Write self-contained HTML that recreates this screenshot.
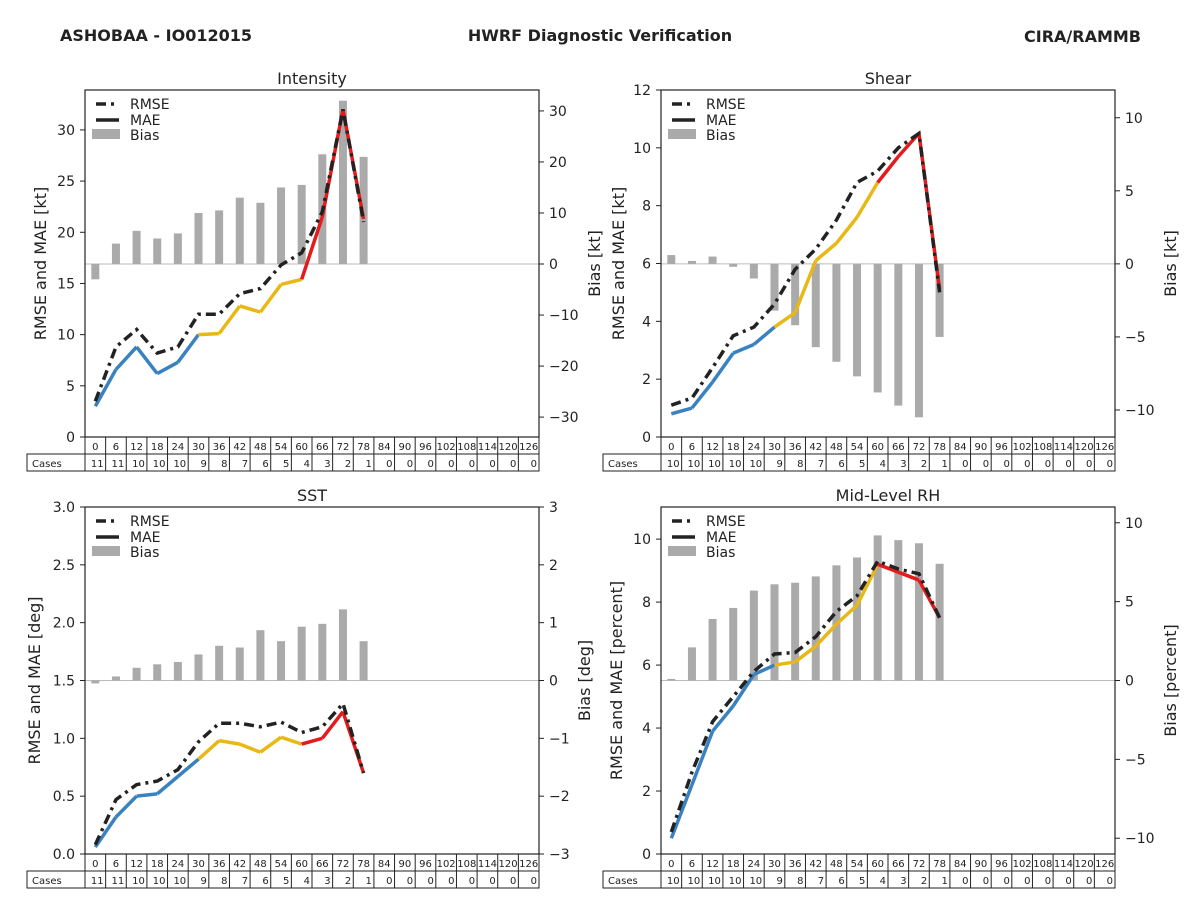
<!DOCTYPE html>
<html><head><meta charset="utf-8"><style>
body{margin:0;background:#fff;}
svg{display:block;font-family:"DejaVu Sans","Liberation Sans",sans-serif;}
</style></head><body>
<svg id="c" width="1200" height="900" viewBox="0 0 1200 900" xmlns="http://www.w3.org/2000/svg">
<text x="60" y="41" font-size="16" font-weight="bold" fill="#222">ASHOBAA - IO012015</text>
<text x="600" y="41" font-size="16" font-weight="bold" fill="#222" text-anchor="middle">HWRF Diagnostic Verification</text>
<text x="1141" y="42" font-size="16" font-weight="bold" fill="#222" text-anchor="end">CIRA/RAMMB</text>
</svg>
<script>
const hours=[0,6,12,18,24,30,36,42,48,54,60,66,72,78,84,90,96,102,108,114,120,126];
const casesA=[11,11,10,10,10,9,8,7,6,5,4,3,2,1,0,0,0,0,0,0,0,0];
const casesB=[10,10,10,10,10,9,8,7,6,5,4,3,2,1,0,0,0,0,0,0,0,0];
const intRmse=[3.5,8.8,10.5,8.2,8.8,12,12,14,14.5,16.8,18,22,32,21];
const intMae=[3,6.6,8.8,6.2,7.3,10,10.1,12.8,12.2,14.9,15.4,21.5,32,21.3];
const intBias=[-3,4,6.5,5,6,10,10.5,13,12,15,15.5,21.5,32,21];
const shRmse=[1.1,1.35,2.4,3.5,3.8,4.6,5.8,6.5,7.5,8.8,9.2,10,10.5,5];
const shMae=[0.8,1.0,1.9,2.9,3.2,3.8,4.3,6.1,6.7,7.6,8.8,9.7,10.5,5.1];
const shBias=[0.6,0.2,0.5,-0.2,-1.0,-3.2,-4.2,-5.7,-6.7,-7.7,-8.8,-9.7,-10.5,-5.0];
const sstRmse=[0.08,0.47,0.6,0.63,0.73,0.97,1.13,1.13,1.1,1.14,1.05,1.1,1.3,0.7];
const sstMae=[0.06,0.32,0.5,0.52,0.67,0.82,0.98,0.95,0.88,1.01,0.95,1.0,1.23,0.7];
const sstBias=[-0.05,0.07,0.22,0.28,0.32,0.45,0.6,0.57,0.87,0.68,0.93,0.98,1.23,0.68];
const rhRmse=[0.7,2.6,4.2,5.0,5.8,6.35,6.4,6.9,7.7,8.2,9.3,9.05,8.9,7.5];
const rhMae=[0.5,2.2,3.9,4.7,5.7,6.0,6.1,6.6,7.3,7.9,9.2,8.95,8.7,7.5];
const rhBias=[0.1,2.1,3.9,4.6,5.7,6.1,6.2,6.6,7.3,7.8,9.2,8.9,8.7,7.4];
const intLeftTicks=[0,5,10,15,20,25,30], intRightTicks=[-30,-20,-10,0,10,20,30];
const shLeftTicks=[0,2,4,6,8,10,12], shRightTicks=[-10,-5,0,5,10];
const sstLeftTicks=[0,0.5,1,1.5,2,2.5,3], sstRightTicks=[-3,-2,-1,0,1,2,3];
const rhLeftTicks=[0,2,4,6,8,10], rhRightTicks=[-10,-5,0,5,10];

const svg=document.getElementById('c');
const NS='http://www.w3.org/2000/svg';
function mk(tag,attrs,parent,txt){const e=document.createElementNS(NS,tag);for(const k in attrs)e.setAttribute(k,attrs[k]);if(txt!==undefined)e.textContent=txt;(parent||svg).appendChild(e);return e;}

function panel(o){
  const g=mk('g',{});
  
  
  const L=o.x0,R=o.x0+454,T=o.y0,B=o.y0+347;
  const cw=(R-L)/22;
  const xs=h=>L+(h/6+0.5)*cw;
  const yl=v=>B-(v-o.lmin)/(o.lmax-o.lmin)*(B-T);
  const yr=v=>B-(v-o.rmin)/(o.rmax-o.rmin)*(B-T);
  const zl=mk('line',{x1:L,x2:R,y1:yr(0),y2:yr(0),stroke:'#bbb','stroke-width':1},g);
  
  
  o.bias.forEach((v,i)=>{const x=xs(hours[i]);const y0=yr(0),y1=yr(v);
    const b=mk('rect',{x:x-4,y:Math.min(y0,y1),width:8,height:Math.max(1,Math.abs(y1-y0)),fill:'#aaa'},g);
    
    });
  const col=i=>i<=5?'#3a82bf':(i<=10?'#e8b817':'#e41a1c');
  for(let i=1;i<o.mae.length;i++){
    const s=mk('line',{x1:xs(hours[i-1]),y1:yl(o.mae[i-1]),x2:xs(hours[i]),y2:yl(o.mae[i]),stroke:col(i),'stroke-width':3.5,'stroke-linecap':'butt'},g);
    
    }
  const pts=o.rmse.map((v,i)=>xs(hours[i]).toFixed(1)+','+yl(v).toFixed(1)).join(' ');
  const rl=mk('polyline',{points:pts,fill:'none',stroke:'#222','stroke-width':3.5,'stroke-dasharray':'10,5,3,5'},g);
  
  
  const fr=mk('rect',{x:L,y:T,width:R-L,height:B-T,fill:'none',stroke:'#222','stroke-width':1.2},g);
  
  
  o.lt.forEach(v=>{const y=yl(v);mk('line',{x1:L-5,x2:L,y1:y,y2:y,stroke:'#222'},g);
    const t=mk('text',{x:L-10,y:y+5,'font-size':14,'text-anchor':'end',fill:'#222'},g,o.fmt(v));
    
    });
  o.rt.forEach(v=>{const y=yr(v);mk('line',{x1:R,x2:R+5,y1:y,y2:y,stroke:'#222'},g);
    const t=mk('text',{x:R+10,y:y+5,'font-size':14,fill:'#222'},g,String(v).replace('-','\u2212'));
    
    });
  const tt=mk('text',{x:(L+R)/2,y:T-6,'font-size':16,'text-anchor':'middle',fill:'#222'},g,o.title);
  
  
  const ly=mk('text',{x:0,y:0,'font-size':16,'text-anchor':'middle',fill:'#222',transform:`translate(${o.lx},${(T+B)/2}) rotate(-90)`},g,o.ylab);
  
  
  const ry=mk('text',{x:0,y:0,'font-size':16,'text-anchor':'middle',fill:'#222',transform:`translate(${o.rx},${(T+B)/2}) rotate(-90)`},g,o.rlab);
  
  
  const lg=mk('g',{},g);
  
  
  mk('line',{x1:L+11,x2:L+34,y1:T+14,y2:T+14,stroke:'#222','stroke-width':3.5,'stroke-dasharray':'10,5,3,5'},lg);
  mk('text',{x:L+45,y:T+19,'font-size':14,fill:'#222'},lg,'RMSE');
  mk('line',{x1:L+11,x2:L+34,y1:T+30,y2:T+30,stroke:'#222','stroke-width':3.5},lg);
  mk('text',{x:L+45,y:T+35,'font-size':14,fill:'#222'},lg,'MAE');
  mk('rect',{x:L+7,y:T+39,width:28,height:10,fill:'#aaa'},lg);
  mk('text',{x:L+45,y:T+50,'font-size':14,fill:'#222'},lg,'Bias');
  const tb=mk('g',{},g);
  
  
  mk('rect',{x:L-58,y:B+17,width:R-L+58,height:17,fill:'none',stroke:'#222'},tb);
  mk('rect',{x:L,y:B,width:R-L,height:17,fill:'none',stroke:'#222'},tb);
  mk('text',{x:L-53,y:B+30,'font-size':10,fill:'#222'},tb,'Cases');
  mk('line',{x1:L,x2:L,y1:B,y2:B+34,stroke:'#222'},tb);
  hours.forEach((h,i)=>{const x=L+i*cw;
    mk('line',{x1:x+cw,x2:x+cw,y1:B,y2:B+34,stroke:'#222'},tb);
    mk('text',{x:x+cw/2,y:B+13,'font-size':10,'text-anchor':'middle',fill:'#222'},tb,String(h));
    mk('text',{x:x+cw-2,y:B+30,'font-size':10,'text-anchor':'end',fill:'#222'},tb,String(o.cases[i]));});
}
const f0=v=>String(v), f1=v=>v.toFixed(1);
panel({id:'intensity',title:'Intensity',x0:85,y0:90,lmin:0,lmax:33.9,rmin:-33.9,rmax:34.1,lt:intLeftTicks,rt:intRightTicks,fmt:f0,
  rmse:intRmse,mae:intMae,bias:intBias,cases:casesA,ylab:'RMSE and MAE [kt]',rlab:'Bias [kt]',lx:46,rx:600});
panel({id:'shear',title:'Shear',x0:661,y0:90,lmin:0,lmax:12,rmin:-11.85,rmax:11.9,lt:shLeftTicks,rt:shRightTicks,fmt:f0,
  rmse:shRmse,mae:shMae,bias:shBias,cases:casesB,ylab:'RMSE and MAE [kt]',rlab:'Bias [kt]',lx:624,rx:1176});
panel({id:'sst',title:'SST',x0:85,y0:507,lmin:0,lmax:3,rmin:-3,rmax:3,lt:sstLeftTicks,rt:sstRightTicks,fmt:f1,
  rmse:sstRmse,mae:sstMae,bias:sstBias,cases:casesA,ylab:'RMSE and MAE [deg]',rlab:'Bias [deg]',lx:40,rx:590});
panel({id:'midlevel-rh',title:'Mid-Level RH',x0:661,y0:507,lmin:0,lmax:11.02,rmin:-11.0,rmax:11.0,lt:rhLeftTicks,rt:rhRightTicks,fmt:f0,
  rmse:rhRmse,mae:rhMae,bias:rhBias,cases:casesB,ylab:'RMSE and MAE [percent]',rlab:'Bias [percent]',lx:622,rx:1176});
</script>
</body></html>
